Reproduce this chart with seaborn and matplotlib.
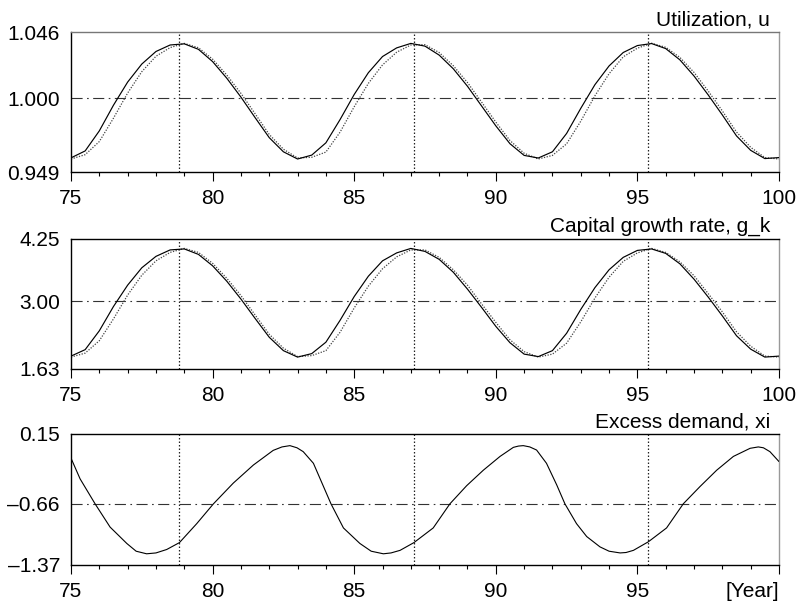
import numpy as np
import pandas as pd
import matplotlib
matplotlib.use("Agg")
import matplotlib.pyplot as plt
import seaborn as sns

# ---------------- data ----------------
years = [75.0, 75.5, 76.0, 76.5, 77.0, 77.5, 78.0, 78.5, 79.0, 79.5,
         80.0, 80.5, 81.0, 81.5, 82.0, 82.5, 83.0, 83.5, 84.0, 84.5,
         85.0, 85.5, 86.0, 86.5, 87.0, 87.5, 88.0, 88.5, 89.0, 89.5,
         90.0, 90.5, 91.0, 91.5, 92.0, 92.5, 93.0, 93.5, 94.0, 94.5,
         95.0, 95.5, 96.0, 96.5, 97.0, 97.5, 98.0, 98.5, 99.0, 99.5, 100.0]

u_actual = [0.9588, 0.9636, 0.9775, 0.9953, 1.0113, 1.0238, 1.0325, 1.0370, 1.0378, 1.0340,
            1.0255, 1.0140, 1.0009, 0.9867, 0.9728, 0.9630, 0.9580, 0.9607, 0.9692, 0.9853,
            1.0027, 1.0178, 1.0290, 1.0350, 1.0381, 1.0362, 1.0300, 1.0205, 1.0084, 0.9947,
            0.9810, 0.9686, 0.9605, 0.9587, 0.9630, 0.9757, 0.9931, 1.0095, 1.0225, 1.0318,
            1.0366, 1.0380, 1.0345, 1.0267, 1.0155, 1.0024, 0.9885, 0.9740, 0.9640, 0.9583, 0.9590]

u_dotted = [0.9580, 0.9610, 0.9701, 0.9863, 1.0037, 1.0185, 1.0292, 1.0352, 1.0381, 1.0351,
            1.0272, 1.0162, 1.0035, 0.9894, 0.9750, 0.9648, 0.9587, 0.9592, 0.9628, 0.9766,
            0.9942, 1.0104, 1.0232, 1.0320, 1.0370, 1.0372, 1.0318, 1.0226, 1.0110, 0.9974,
            0.9836, 0.9708, 0.9620, 0.9580, 0.9605, 0.9685, 0.9842, 1.0018, 1.0171, 1.0288,
            1.0348, 1.0382, 1.0354, 1.0284, 1.0180, 1.0051, 0.9913, 0.9767, 0.9661, 0.9590, 0.9580]

gk_actual = [1.89, 2.02, 2.40, 2.89, 3.32, 3.67, 3.90, 4.03, 4.05, 3.94,
             3.71, 3.40, 3.04, 2.65, 2.27, 2.00, 1.87, 1.94, 2.17, 2.61,
             3.09, 3.50, 3.81, 3.97, 4.06, 4.00, 3.84, 3.58, 3.24, 2.87,
             2.49, 2.16, 1.93, 1.88, 2.00, 2.35, 2.83, 3.27, 3.63, 3.88,
             4.02, 4.05, 3.96, 3.75, 3.44, 3.08, 2.70, 2.30, 2.03, 1.87, 1.89]

gk_dotted = [1.87, 1.95, 2.20, 2.64, 3.12, 3.52, 3.81, 3.98, 4.06, 3.98,
             3.76, 3.46, 3.11, 2.72, 2.33, 2.05, 1.88, 1.90, 2.00, 2.37,
             2.86, 3.30, 3.65, 3.89, 4.03, 4.03, 3.88, 3.63, 3.32, 2.94,
             2.57, 2.22, 1.98, 1.87, 1.93, 2.15, 2.58, 3.06, 3.48, 3.80,
             3.97, 4.06, 3.98, 3.79, 3.51, 3.15, 2.78, 2.38, 2.09, 1.89, 1.87]

xi_years = [75.0, 75.32, 75.85, 76.38, 76.97, 77.3, 77.67, 78.0, 78.38, 78.83,
            79.44, 80.03, 80.73, 81.44, 82.14, 82.45, 82.73, 82.98, 83.2, 83.56,
            84.18, 84.62, 85.2, 85.6, 86.03, 86.3, 86.62, 87.11, 87.79, 88.38,
            88.97, 89.56, 90.15, 90.62, 90.8, 90.97, 91.2, 91.44, 91.79, 92.15,
            92.44, 92.85, 93.21, 93.68, 94.0, 94.39, 94.6, 94.86, 95.39, 96.03,
            96.62, 97.21, 97.80, 98.39, 98.98, 99.27, 99.45, 99.68, 100.0]
xi_vals = [-0.13, -0.37, -0.66, -0.93, -1.12, -1.21, -1.24, -1.23, -1.19, -1.11,
           -0.89, -0.66, -0.42, -0.21, -0.04, 0.0, 0.015, -0.01, -0.055, -0.19,
           -0.66, -0.94, -1.12, -1.21, -1.24, -1.23, -1.20, -1.11, -0.94, -0.66,
           -0.45, -0.27, -0.11, -0.005, 0.01, 0.015, 0.0, -0.036, -0.19, -0.44,
           -0.66, -0.89, -1.04, -1.16, -1.21, -1.23, -1.225, -1.20, -1.10, -0.94,
           -0.66, -0.46, -0.27, -0.11, -0.016, 0.0, -0.01, -0.055, -0.17]

peak_years = [78.83, 87.11, 95.39]

titles = ["Utilization, u", "Capital growth rate, g_k", "Excess demand, xi"]
y_ticks = [[0.949, 1.000, 1.046], [1.63, 3.00, 4.25], [-1.37, -0.66, 0.15]]
y_ticklabels = [["0.949", "1.000", "1.046"], ["1.63", "3.00", "4.25"],
                ["\u20131.37", "\u20130.66", "0.15"]]
x_major = [75, 80, 85, 90, 95, 100]
x_minor = list(range(75, 101))
x_labels_top = ["75", "80", "85", "90", "95", "100"]
x_labels_bottom = ["75", "80", "85", "90", "95", "[Year]"]

# ---------------- style ----------------
sns.set_theme(style="white")
plt.rcParams["font.family"] = ["Liberation Sans", "DejaVu Sans"]
plt.rcParams["axes.unicode_minus"] = False

fig = plt.figure(figsize=(8.0, 6.02), dpi=100)
W, H = 800.0, 602.0
left, right = 71 / W, 779 / W
panels_px = [(32, 172), (239, 369), (434, 565)]
axes = []
for top, bot in panels_px:
    axes.append(fig.add_axes([left, 1 - bot / H, right - left, (bot - top) / H]))

df_u = pd.DataFrame({"year": years, "actual": u_actual, "dotted": u_dotted})
df_g = pd.DataFrame({"year": years, "actual": gk_actual, "dotted": gk_dotted})
df_x = pd.DataFrame({"year": xi_years, "xi": xi_vals})

for i, ax in enumerate(axes):
    ax.set_facecolor("white")
    lo, mid, hi = y_ticks[i]
    ax.set_xlim(75, 100)
    ax.set_ylim(lo, hi)
    # reference lines
    ax.axhline(mid, color="#333333", lw=0.8, ls=(0, (10, 4, 1.5, 4)), zorder=1)
    for p in peak_years:
        ax.axvline(p, color="#222222", lw=0.9, ls=(0, (1.2, 1.6)), zorder=1)

    if i == 0:
        sns.lineplot(data=df_u, x="year", y="dotted", ax=ax, color="#444444",
                     lw=0.9, ls=(0, (1, 1.2)), estimator=None, sort=False, zorder=2)
        sns.lineplot(data=df_u, x="year", y="actual", ax=ax, color="black",
                     lw=0.85, estimator=None, sort=False, zorder=3)
    elif i == 1:
        sns.lineplot(data=df_g, x="year", y="dotted", ax=ax, color="#444444",
                     lw=0.9, ls=(0, (1, 1.2)), estimator=None, sort=False, zorder=2)
        sns.lineplot(data=df_g, x="year", y="actual", ax=ax, color="black",
                     lw=0.85, estimator=None, sort=False, zorder=3)
    else:
        sns.lineplot(data=df_x, x="year", y="xi", ax=ax, color="black",
                     lw=0.8, estimator=None, sort=False, zorder=3)

    ax.set_xlabel("")
    ax.set_ylabel("")
    ax.set_yticks(y_ticks[i])
    ax.set_yticklabels(y_ticklabels[i], fontsize=15, color="black")
    ax.set_xticks(x_major)
    ax.set_xticks(x_minor, minor=True)
    labs = x_labels_bottom if i == 2 else x_labels_top
    ax.set_xticklabels(labs, fontsize=15, color="black")
    if i == 2:
        ax.get_xticklabels()[-1].set_horizontalalignment("right")
    ax.tick_params(axis="x", which="major", direction="out", length=6.5, width=0.8,
                   pad=6, color="black", bottom=True)
    ax.tick_params(axis="x", which="minor", direction="out", length=3, width=0.8,
                   color="black", bottom=True)
    ax.tick_params(axis="y", which="both", length=0, pad=8, left=True)

    for side in ["left", "bottom", "top"]:
        ax.spines[side].set_visible(True)
        ax.spines[side].set_color("black")
        ax.spines[side].set_linewidth(1.0)
    ax.spines["right"].set_visible(True)
    ax.spines["right"].set_color("#999999")
    ax.spines["right"].set_linewidth(1.0)
    if i == 0:
        ax.spines["top"].set_color("#777777")

    ax.annotate(titles[i], xy=(1.0, 1.0), xycoords="axes fraction",
                xytext=(-6.5, 5), textcoords="offset points",
                ha="right", va="baseline", fontsize=15, color="black")

fig.savefig("out.png", dpi=100, facecolor="white")
